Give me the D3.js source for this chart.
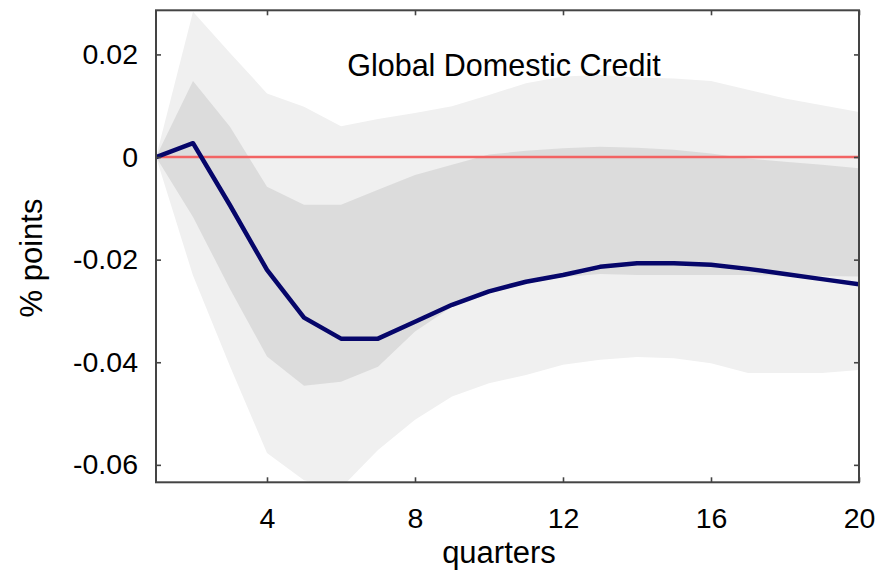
<!DOCTYPE html>
<html>
<head>
<meta charset="utf-8">
<script src="https://cdn.jsdelivr.net/npm/d3@7"></script>
<style>
  html, body { margin: 0; padding: 0; background: #fff; }
  svg { display: block; font-family: "Liberation Sans", Arial, Helvetica, sans-serif; }
</style>
</head>
<body>
<svg id="chart" width="885" height="577"></svg>
<script>
// Impulse response of global domestic credit, in % points, over 20 quarters
const quarters = [1, 2, 3, 4, 5, 6, 7, 8, 9, 10, 11, 12, 13, 14, 15, 16, 17, 18, 19, 20];
const response = [0, 0.0027, -0.0094, -0.0220, -0.0313, -0.0354, -0.0354, -0.0321, -0.0288, -0.0262,
                  -0.0243, -0.0230, -0.0214, -0.0207, -0.0207, -0.0210, -0.0218, -0.0228, -0.0238, -0.0248];
// inner confidence band
const innerUpper = [0, 0.0148, 0.0059, -0.0058, -0.0093, -0.0093, -0.0064, -0.0035, -0.0015, 0.0005,
                    0.0012, 0.0017, 0.0020, 0.0018, 0.0014, 0.0007, -0.0003, -0.0009, -0.0015, -0.0022];
const innerLower = [0, -0.0117, -0.0257, -0.0389, -0.0446, -0.0438, -0.0409, -0.0340, -0.0292, -0.0266,
                    -0.0247, -0.0234, -0.0228, -0.0230, -0.0230, -0.0230, -0.0230, -0.0231, -0.0232, -0.0233];
// outer confidence band
const outerUpper = [0, 0.0283, 0.0203, 0.0124, 0.0098, 0.0060, 0.0074, 0.0086, 0.0099, 0.0121,
                    0.0144, 0.0157, 0.0160, 0.0155, 0.0153, 0.0148, 0.0131, 0.0114, 0.0101, 0.0088];
const outerLower = [0, -0.0231, -0.0408, -0.0577, -0.0630, -0.0645, -0.0571, -0.0512, -0.0467, -0.0441,
                    -0.0425, -0.0405, -0.0395, -0.0390, -0.0392, -0.0402, -0.0421, -0.0421, -0.0421, -0.0415];

const xTicks = [4, 8, 12, 16, 20];
const yTicks = [-0.06, -0.04, -0.02, 0, 0.02];
const title = "Global Domestic Credit";
const xLabel = "quarters";
const yLabel = "% points";

const plot = { left: 156, right: 859, top: 10.3, bottom: 482.3 };

const x = d3.scaleLinear().domain([1, 20]).range([plot.left, plot.right]);
const y = d3.scaleLinear().domain([-0.0634, 0.0286]).range([plot.bottom, plot.top]);

const svg = d3.select("#chart");

svg.append("defs").append("clipPath").attr("id", "plot-clip")
  .append("rect")
  .attr("x", plot.left).attr("y", plot.top)
  .attr("width", plot.right - plot.left).attr("height", plot.bottom - plot.top);

const body = svg.append("g").attr("clip-path", "url(#plot-clip)");

const rows = quarters.map((q, i) => ({
  q, r: response[i],
  iu: innerUpper[i], il: innerLower[i],
  ou: outerUpper[i], ol: outerLower[i]
}));

const band = (lo, hi) => d3.area()
  .x(d => x(d.q))
  .y0(d => y(d[lo]))
  .y1(d => y(d[hi]));

body.append("path").datum(rows)
  .attr("d", band("ol", "ou")(rows))
  .attr("fill", "#f0f0f0");

body.append("path").datum(rows)
  .attr("d", band("il", "iu")(rows))
  .attr("fill", "#dcdcdc");

// zero reference line
body.append("line")
  .attr("x1", plot.left).attr("x2", plot.right)
  .attr("y1", y(0)).attr("y2", y(0))
  .attr("stroke", "#f26464").attr("stroke-width", 2.4);

body.append("path").datum(rows)
  .attr("d", d3.line().x(d => x(d.q)).y(d => y(d.r)))
  .attr("fill", "none")
  .attr("stroke", "#06066a")
  .attr("stroke-width", 4.5)
  .attr("stroke-linejoin", "round");

// axes with inward ticks
const fmt = v => v === 0 ? "0" : v.toFixed(2);
const tickLen = -5;

const gLeft = svg.append("g").attr("transform", `translate(${plot.left},0)`)
  .call(d3.axisLeft(y).tickValues(yTicks).tickFormat(fmt).tickSize(tickLen).tickPadding(18));
const gBottom = svg.append("g").attr("transform", `translate(0,${plot.bottom})`)
  .call(d3.axisBottom(x).tickValues(xTicks).tickSize(tickLen).tickPadding(25));
const gRight = svg.append("g").attr("transform", `translate(${plot.right},0)`)
  .call(d3.axisRight(y).tickValues(yTicks).tickFormat("").tickSize(tickLen));
const gTop = svg.append("g").attr("transform", `translate(0,${plot.top})`)
  .call(d3.axisTop(x).tickValues(xTicks).tickFormat("").tickSize(tickLen));

[gLeft, gBottom, gRight, gTop].forEach(g => {
  g.select(".domain").remove();
  g.selectAll(".tick line").attr("stroke", "#444").attr("stroke-width", 1.6);
  g.selectAll(".tick text").attr("fill", "#000").attr("font-size", 28.5)
    .attr("font-family", "Liberation Sans, Arial, sans-serif");
});

svg.append("rect")
  .attr("x", plot.left).attr("y", plot.top)
  .attr("width", plot.right - plot.left).attr("height", plot.bottom - plot.top)
  .attr("fill", "none").attr("stroke", "#444").attr("stroke-width", 2);

svg.append("text")
  .attr("x", 504).attr("y", 76)
  .attr("text-anchor", "middle")
  .attr("font-size", 30.5).attr("fill", "#000")
  .text(title);

svg.append("text")
  .attr("x", 499).attr("y", 563)
  .attr("text-anchor", "middle")
  .attr("font-size", 31).attr("fill", "#000")
  .text(xLabel);

svg.append("text")
  .attr("transform", "translate(42,258) rotate(-90)")
  .attr("text-anchor", "middle")
  .attr("font-size", 31).attr("fill", "#000")
  .text(yLabel);
</script>
</body>
</html>
